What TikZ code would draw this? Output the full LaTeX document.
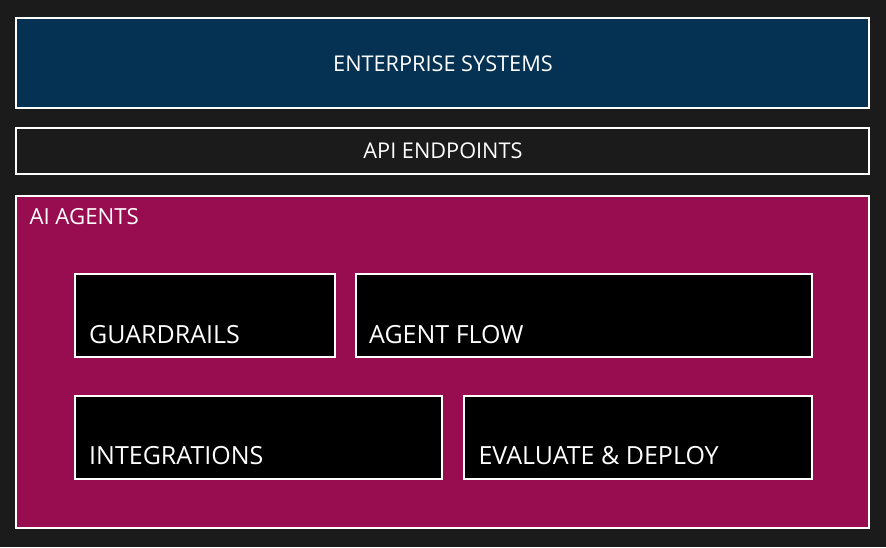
\documentclass[tikz,border=0pt]{standalone}
\usepackage{fontspec}
\setmainfont{Open Sans}
\definecolor{bgc}{RGB}{27,27,27}
\definecolor{navy}{RGB}{5,50,82}
\definecolor{berry}{RGB}{152,13,80}
\tikzset{
  panel/.style={draw=white, line width=2pt},
  lbl/.style={text=white, inner sep=0pt, font=\fontsize{21.7}{26}\selectfont},
  biglbl/.style={text=white, inner sep=0pt, font=\fontsize{25}{30}\selectfont},
}
\begin{document}
\begin{tikzpicture}[x=1pt,y=-1pt]
\fill[bgc] (0,0) rectangle (886,547);
\useasboundingbox (0,0) rectangle (886,547);
\draw[panel, fill=navy] (16,18) rectangle (869,108);
\node[lbl, anchor=base] (ent) at (443,71.7) {ENTERPRISE SYSTEMS};
\draw[panel, fill=bgc] (16,128) rectangle (869,174);
\node[lbl, anchor=base] (api) at (443,158.3) {API ENDPOINTS};
\draw[panel, fill=berry] (16,196) rectangle (869,528);
\node[lbl, anchor=base west, font=\fontsize{22.2}{26}\selectfont] (ai) at (29.3,224.3) {AI AGENTS};
\draw[panel, fill=black] (75,274) rectangle (334.5,357);
\node[biglbl, anchor=base west] (gr) at (89,343.3) {GUARDRAILS};
\draw[panel, fill=black] (356,274) rectangle (812,357);
\node[biglbl, anchor=base west] (af) at (369,343.3) {AGENT FLOW};
\draw[panel, fill=black] (75,396) rectangle (442,479);
\node[biglbl, anchor=base west] (in) at (89,464.3) {INTEGRATIONS};
\draw[panel, fill=black] (464,396) rectangle (812,479);
\node[biglbl, anchor=base west] (ev) at (478.3,464.3) {EVALUATE \& DEPLOY};
\end{tikzpicture}
\end{document}
